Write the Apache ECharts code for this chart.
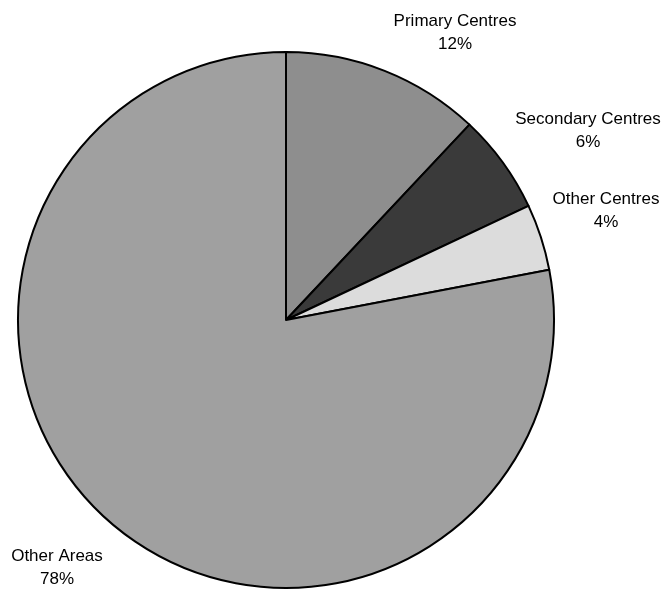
<!DOCTYPE html>
<html>
<head>
<meta charset="utf-8">
<script src="https://cdn.jsdelivr.net/npm/echarts@6/dist/echarts.min.js"></script>
<style>
html,body{margin:0;padding:0;background:#fff;}
#chart{width:663px;height:592px;}
</style>
</head>
<body>
<div id="chart"></div>
<script>
const categories = ['Primary Centres', 'Secondary Centres', 'Other Centres', 'Other Areas'];
const values = [12, 6, 4, 78];
const sliceColors = ['#8e8e8e', '#3a3a3a', '#dcdcdc', '#a0a0a0'];
// label anchor points (pixel layout, not data)
const labelAnchors = [[455, 33], [588, 131], [606, 211], [57, 568]];

const chart = echarts.init(document.getElementById('chart'), null, {renderer: 'canvas'});
chart.setOption({
  animation: false,
  backgroundColor: '#ffffff',
  series: [{
    type: 'pie',
    center: [286, 320],
    radius: 268,
    startAngle: 90,
    clockwise: true,
    avoidLabelOverlap: false,
    data: categories.map((c, i) => ({
      name: c,
      value: values[i],
      itemStyle: {color: sliceColors[i]}
    })),
    itemStyle: {borderColor: '#000', borderWidth: 2},
    label: {
      show: true,
      position: 'outside',
      formatter: '{b}\n{c}%',
      fontFamily: 'Liberation Sans, Arial, sans-serif',
      fontSize: 17,
      lineHeight: 23,
      color: '#000',
      align: 'center'
    },
    labelLine: {show: false},
    labelLayout: function (p) {
      const a = labelAnchors[p.dataIndex];
      return {x: a[0], y: a[1], align: 'center', verticalAlign: 'middle'};
    },
    emphasis: {disabled: true}
  }]
});
</script>
</body>
</html>
